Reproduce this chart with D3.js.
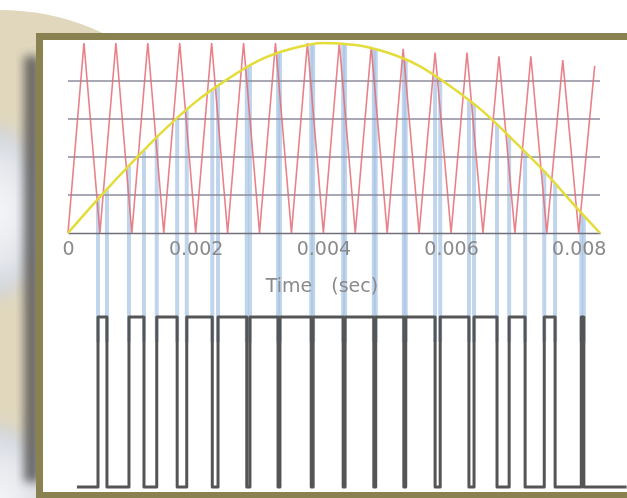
<!DOCTYPE html>
<html>
<head>
<meta charset="utf-8">
<script src="https://cdn.jsdelivr.net/npm/d3@7"></script>
<style>
  html, body { margin: 0; padding: 0; background: #fff; }
  figure#pwm { margin: 0; }
</style>
</head>
<body>
<figure id="pwm"></figure>
<script>
// x axis ticks (seconds)
const ticks = [0, 0.002, 0.004, 0.006, 0.008];
const tickLabels = ['0', '0.002', '0.004', '0.006', '0.008'];
const axisTitle = 'Time\u3000(sec)';
const gridLevels = [0.2, 0.4, 0.6, 0.8];

// reference sine (half cycle)
const sineT = [0, 0.0005, 0.001, 0.0015, 0.002, 0.0025, 0.003, 0.0035, 0.004,
  0.0045, 0.005, 0.0055, 0.006, 0.0065, 0.007, 0.0075, 0.008, 0.008333];
const sineV = [0, 0.19, 0.37, 0.54, 0.69, 0.81, 0.91, 0.97, 1.0,
  0.99, 0.95, 0.88, 0.77, 0.64, 0.48, 0.31, 0.12, 0];

// triangle carrier vertices
const carrierT = [0, 0.00025, 0.0005, 0.00075, 0.001, 0.00125, 0.0015, 0.00175,
  0.002, 0.00225, 0.0025, 0.00275, 0.003, 0.00325, 0.0035, 0.00375, 0.004,
  0.00425, 0.0045, 0.00475, 0.005, 0.00525, 0.0055, 0.00575, 0.006, 0.00625,
  0.0065, 0.00675, 0.007, 0.00725, 0.0075, 0.00775, 0.008, 0.00825];
const carrierV = [0, 1, 0, 1, 0, 1, 0, 1,
  0, 1, 0, 1, 0, 1, 0, 1, 0,
  1, 0, 0.98, 0, 0.97, 0, 0.95, 0, 0.95,
  0, 0.93, 0, 0.93, 0, 0.91, 0, 0.88];

// PWM output: start, rise/fall edges, end (low at both ends)
const pwmStart = 0.00014;
const pwmEnd = 0.00875;
const pwmEdges = [0.00047, 0.00061, 0.000955, 0.00119, 0.00139, 0.00171,
  0.00186, 0.00226, 0.00235, 0.0028, 0.00285, 0.00329, 0.00332, 0.00381,
  0.00384, 0.00431, 0.00434, 0.00479, 0.00482, 0.00526, 0.00529, 0.00575,
  0.00583, 0.00628, 0.00636, 0.00672, 0.00691, 0.00716, 0.00746, 0.00763,
  0.00804, 0.00808];

const width = 627;
const height = 498;

let svg;

function createSVG() {
  svg = d3.select('figure#pwm')
    .append('svg')
    .attr('width', width)
    .attr('height', height)
    .style('display', 'block');

  const defs = svg.append('defs');
  defs.append('filter').attr('id', 'blur').attr('x', '-50%').attr('width', '200%')
    .append('feGaussianBlur').attr('stdDeviation', 5);
  defs.append('filter').attr('id', 'haze').attr('x', '-50%').attr('y', '-50%')
    .attr('width', '200%').attr('height', '200%')
    .append('feGaussianBlur').attr('stdDeviation', 8);
  defs.append('filter').attr('id', 'soft')
    .append('feGaussianBlur').attr('stdDeviation', 0.5);
  const glow = defs.append('radialGradient').attr('id', 'glow');
  glow.append('stop').attr('offset', '0%').attr('stop-color', '#f7f8fa');
  glow.append('stop').attr('offset', '65%').attr('stop-color', '#e3e5ea');
  glow.append('stop').attr('offset', '100%').attr('stop-color', '#cdd1d9');
}

function drawBackground() {
  // decorative backdrop behind the frame
  svg.append('circle').attr('cx', 0).attr('cy', 250).attr('r', 240).attr('fill', '#e0d7bd');
  svg.append('ellipse').attr('cx', 0).attr('cy', 212).attr('rx', 42).attr('ry', 85)
    .attr('fill', 'url(#glow)').attr('filter', 'url(#haze)');
  svg.append('ellipse').attr('cx', 0).attr('cy', 505).attr('rx', 48).attr('ry', 80)
    .attr('fill', 'url(#glow)').attr('filter', 'url(#haze)');
  svg.append('rect').attr('x', 24).attr('y', 56).attr('width', 16).attr('height', 426)
    .attr('fill', '#505050').attr('opacity', 0.8).attr('filter', 'url(#blur)');

  svg.append('rect').attr('x', 39.5).attr('y', 36.5).attr('width', 640).attr('height', 459)
    .attr('fill', '#ffffff').attr('stroke', '#8a8150').attr('stroke-width', 7);
}

function drawChart() {
  const x = d3.scaleLinear().domain(d3.extent(sineT)).range([68, 600]);
  const y = d3.scaleLinear().domain([0, 1]).range([233, 43]);
  const yPwm = d3.scaleLinear().domain([0, 1]).range([487, 317]);
  const sineAt = d3.scaleLinear().domain(sineT).range(sineV);

  const plot = svg.append('g').attr('filter', 'url(#soft)');

  // drop lines from the crossing points to the pulse edges
  plot.append('g')
    .selectAll('line')
    .data(pwmEdges)
    .join('line')
    .attr('x1', (d) => x(d))
    .attr('x2', (d) => x(d))
    .attr('y1', (d) => y(sineAt(d)))
    .attr('y2', yPwm(1) + 25)
    .attr('stroke', '#a6c3e4')
    .attr('stroke-width', 4)
    .attr('opacity', 0.7);

  // horizontal grid
  plot.append('g')
    .selectAll('line')
    .data(gridLevels)
    .join('line')
    .attr('x1', x.range()[0])
    .attr('x2', x.range()[1])
    .attr('y1', (d) => y(d))
    .attr('y2', (d) => y(d))
    .attr('stroke', '#8c8c9c')
    .attr('stroke-width', 1.5);

  // x axis
  const axis = plot.append('g')
    .attr('transform', 'translate(0,' + y(0) + ')')
    .call(d3.axisBottom(x).tickValues(ticks).tickFormat((d, i) => tickLabels[i])
      .tickSizeInner(0).tickSizeOuter(0).tickPadding(9));
  axis.select('.domain').attr('stroke', '#6f6f7a').attr('stroke-width', 1.5);
  axis.selectAll('text')
    .style('font-family', '"DejaVu Sans", sans-serif')
    .style('font-size', '19px')
    .attr('fill', '#8a8a8a');

  plot.append('text')
    .attr('x', 322)
    .attr('y', 292)
    .attr('text-anchor', 'middle')
    .style('font-family', '"DejaVu Sans", "Noto Sans CJK JP", sans-serif')
    .style('font-size', '19px')
    .attr('fill', '#8a8a8a')
    .text(axisTitle);

  // triangle carrier
  const carrier = carrierT.map((t, i) => [t, carrierV[i]]);
  plot.append('path')
    .datum(carrier)
    .attr('d', d3.line().x((d) => x(d[0])).y((d) => y(d[1])))
    .attr('fill', 'none')
    .attr('stroke', '#e56b74')
    .attr('stroke-width', 1.6)
    .attr('opacity', 0.85);

  // reference sine
  const sine = sineT.map((t, i) => [t, sineV[i]]);
  plot.append('path')
    .datum(sine)
    .attr('d', d3.line().curve(d3.curveMonotoneX).x((d) => x(d[0])).y((d) => y(d[1])))
    .attr('fill', 'none')
    .attr('stroke', '#e4dc3a')
    .attr('stroke-width', 2.5);

  // PWM output
  const pwmT = [pwmStart, ...pwmEdges, pwmEnd];
  const last = pwmT.length - 1;
  const pwm = pwmT.map((t, i) => [t, i === last ? 0 : i % 2]);
  plot.append('path')
    .datum(pwm)
    .attr('d', d3.line().curve(d3.curveStepAfter).x((d) => x(d[0])).y((d) => yPwm(d[1])))
    .attr('fill', 'none')
    .attr('stroke', '#555555')
    .attr('stroke-width', 3)
    .attr('stroke-linejoin', 'round');
}

createSVG();
drawBackground();
drawChart();
</script>
</body>
</html>
